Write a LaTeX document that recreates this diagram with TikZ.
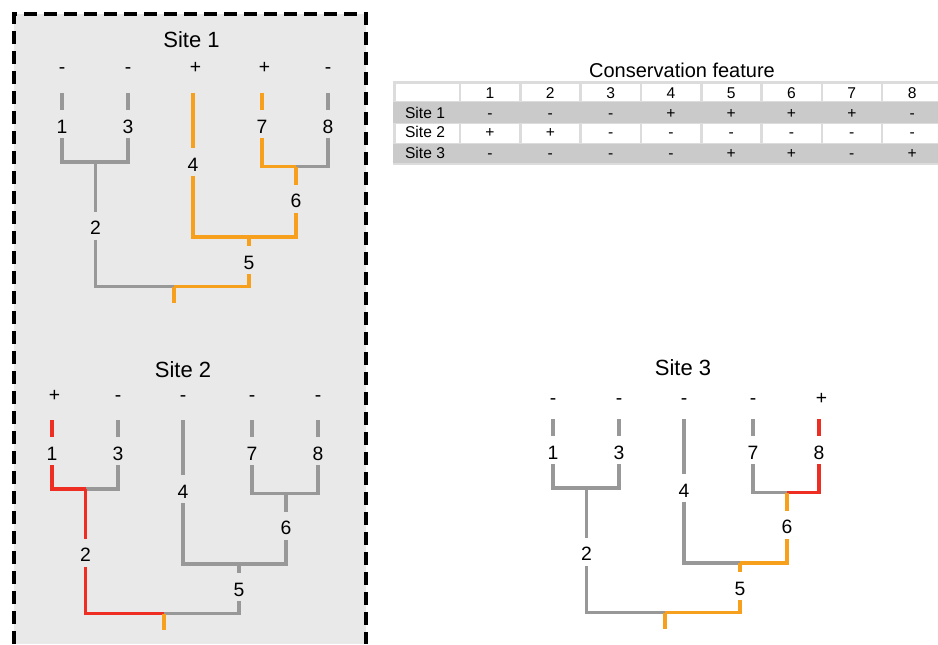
\documentclass[tikz,border=0pt]{standalone}
\usepackage{fontspec}
\setmainfont{Liberation Sans}
\usepackage{tikz}
\definecolor{boxgrey}{RGB}{233,233,233}
\definecolor{treegrey}{RGB}{152,152,152}
\definecolor{treeorange}{RGB}{247,160,30}
\definecolor{treered}{RGB}{238,45,35}
\definecolor{tabframe}{RGB}{220,220,220}
\definecolor{tabgrey}{RGB}{202,202,202}
\tikzset{
  branch/.style={line width=2.3pt},
  greybr/.style={branch, draw=treegrey},
  orangebr/.style={branch, draw=treeorange},
  redbr/.style={branch, draw=treered},
  rootbr/.style={orangebr},
  lab/.style={font=\fontsize{14.5}{17}\selectfont, inner sep=0pt, inner ysep=3.8pt,
    text height=13pt, text depth=0pt, anchor=base},
  sign/.style={font=\fontsize{14.5}{17}\selectfont, inner sep=0pt, anchor=base west},
  sitetitle/.style={font=\fontsize{16.5}{20}\selectfont, inner sep=0pt, anchor=base},
  tabtxt/.style={font=\fontsize{11.7}{14}\selectfont, inner sep=0pt, anchor=base},
  boxline/.style={line width=2.5pt, dash pattern=on 10pt off 5pt},
}
% #1 name prefix, #2..#9 colour of branches 1..8
\newcommand{\sitetree}[9]{%
  \coordinate (#1t1) at (0,0);
  \coordinate (#1t3) at (66,0);
  \coordinate (#1t4) at (131,0);
  \coordinate (#1t7) at (200,0);
  \coordinate (#1t8) at (266,0);
  \coordinate (#1j2) at (33.5,69);
  \coordinate (#1j6) at (234,73.5);
  \coordinate (#1j5) at (187,144);
  \coordinate (#1j0) at (112,193.5);
  \coordinate (#1r) at (112,210);
  \node[lab] (#1l1) at (0,40) {1};
  \node[lab] (#1l3) at (66,40) {3};
  \node[lab] (#1l7) at (200,40) {7};
  \node[lab] (#1l8) at (266,40) {8};
  \node[lab] (#1l4) at (131,78) {4};
  \node[lab] (#1l2) at (33.5,141.5) {2};
  \node[lab] (#1l6) at (234,114.5) {6};
  \node[lab] (#1l5) at (187,176) {5};
  % leaves
  \draw[#2] (#1t1) -- (#1l1) (#1l1) |- (#1j2);
  \draw[#4] (#1t3) -- (#1l3) (#1l3) |- (#1j2);
  \draw[#5] (#1t4) -- (#1l4) (#1l4) |- (#1j5);
  \draw[#8] (#1t7) -- (#1l7) (#1l7) |- (#1j6);
  \draw[#9] (#1t8) -- (#1l8) (#1l8) |- (#1j6);
  % inner branches
  \draw[#3] (#1j2) -- (#1l2) (#1l2) |- (#1j0);
  \draw[#7] (#1j6) -- (#1l6) (#1l6) |- (#1j5);
  \draw[#6] (#1j5) -- (#1l5) (#1l5) |- (#1j0);
  \draw[rootbr] (#1j0) -- (#1r);
}

\begin{document}
\begin{tikzpicture}[x=0.75pt,y=-0.75pt]
  \useasboundingbox (0,0) rectangle (938,644);

  % box round site 1 and 2
  \fill[boxgrey] (14,14) rectangle (366,644);
  \draw[boxline] (14,644) -- (14,14) -- (366,14) -- (366,644);

  \node[sitetitle] (title1) at (191.5,47.5) {Site 1};
  \node[sitetitle] (title2) at (183,377) {Site 2};
  \node[sitetitle] (title3) at (683,375) {Site 3};

  \begin{scope}[shift={(62,93)}]
    \sitetree{a}{greybr}{greybr}{greybr}{orangebr}{orangebr}{orangebr}{orangebr}{greybr}
    \foreach \x/\s [count=\i] in {0/-,66/-,131/+,200/+,266/-}
      \node[sign] (as\i) at (\x-3.3,-20) {\s};
  \end{scope}

  \begin{scope}[shift={(52,420)}]
    \sitetree{b}{redbr}{redbr}{greybr}{greybr}{greybr}{greybr}{greybr}{greybr}
    \foreach \x/\s [count=\i] in {0/+,66/-,131/-,200/-,266/-}
      \node[sign] (bs\i) at (\x-3.3,-19) {\s};
  \end{scope}

  \begin{scope}[shift={(553,419)}]
    \sitetree{c}{greybr}{greybr}{greybr}{greybr}{orangebr}{orangebr}{greybr}{redbr}
    \foreach \x/\s [count=\i] in {0/-,66/-,131/-,200/-,266/+}
      \node[sign] (cs\i) at (\x-3.3,-15) {\s};
  \end{scope}

  % table
  \node[sitetitle, font=\fontsize{15}{18}\selectfont] (ctitle) at (682,77.5) {Conservation feature};
  \fill[tabframe] (393,81) rectangle (938,165);
  \foreach \ya/\yb in {83.5/101, 124/142.5} {
    \fill[white] (395.5,\ya) rectangle (458.5,\yb);
    \foreach \k in {0,...,7}
      \fill[white] ({461.3+60.3*\k},\ya) rectangle ({519+60.3*\k},\yb);
  }
  \fill[tabgrey] (393,101.8) rectangle (938,122.7);
  \fill[tabgrey] (393,144.3) rectangle (938,163.3);
  \foreach \c in {1,...,8}
    \node[tabtxt] (h\c) at ({490+60.3*(\c-1)},98) {\c};
  \foreach \r/\yb/\vals in {1/118/{-,-,-,+,+,+,+,-}, 2/137.7/{+,+,-,-,-,-,-,-}, 3/158/{-,-,-,-,+,+,-,+}} {
    \node[tabtxt] (row\r) at (425,\yb) {Site \r};
    \foreach \v [count=\c] in \vals
      \node[tabtxt] (s\r\c) at ({490+60.3*(\c-1)},\yb) {\v};
  }
\end{tikzpicture}
\end{document}
